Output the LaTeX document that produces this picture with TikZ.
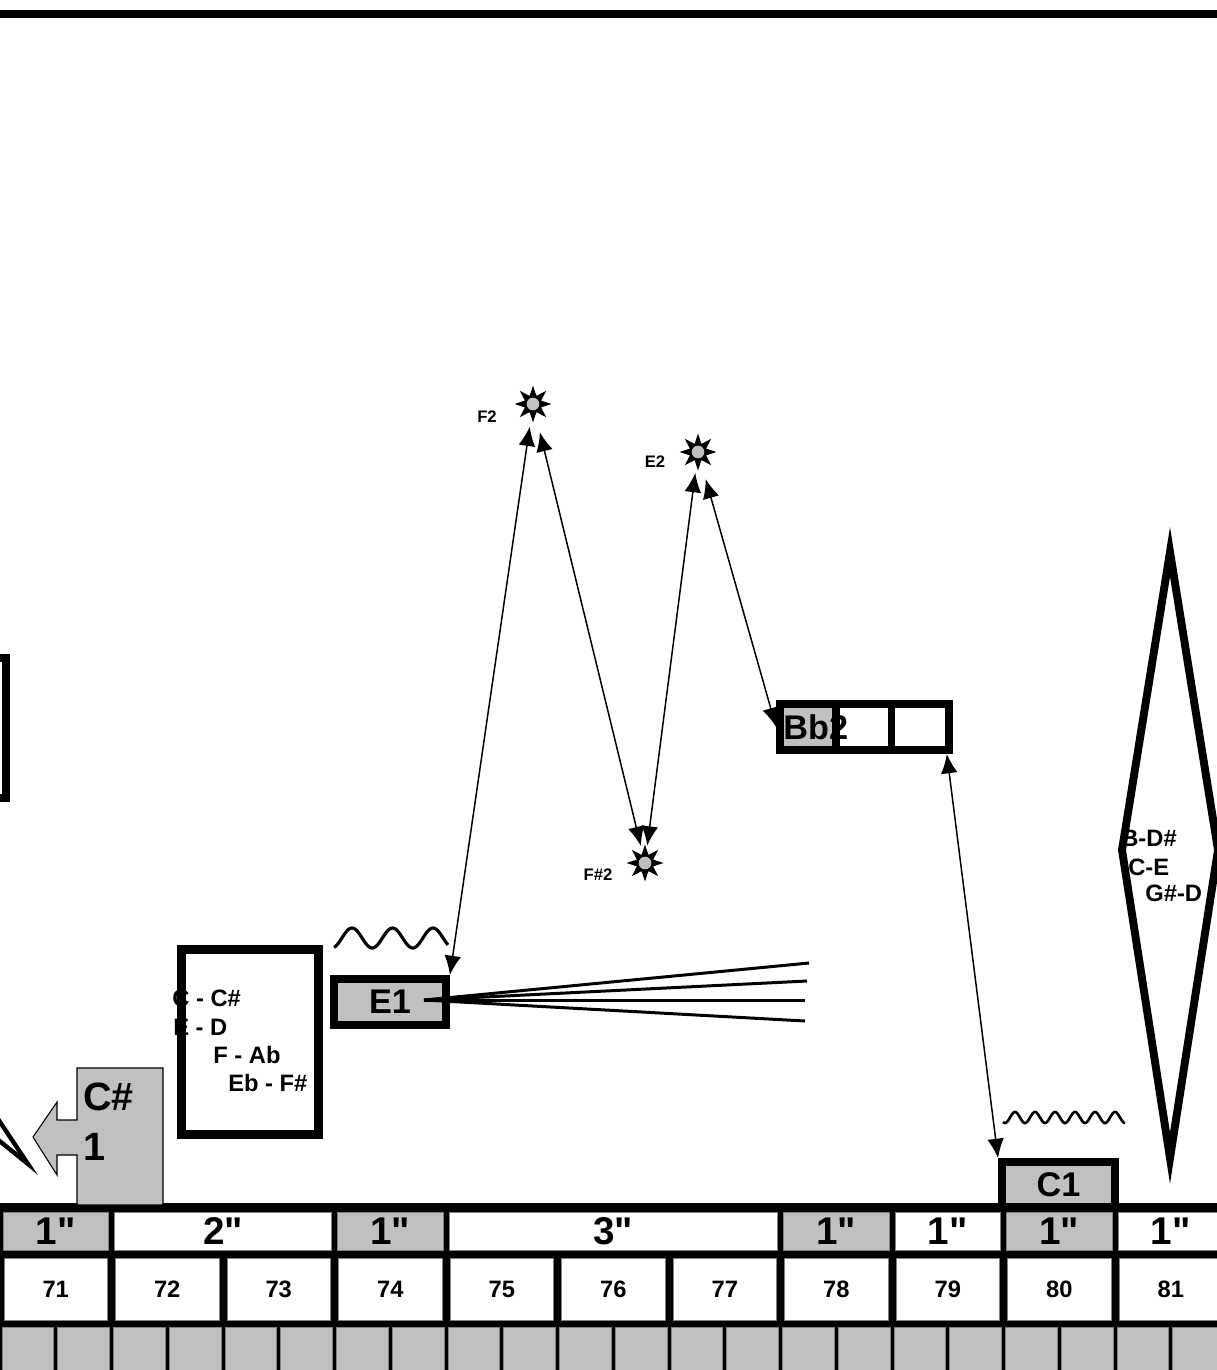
\documentclass[tikz,border=0pt]{standalone}
\usepackage{fontspec}
\setmainfont{Liberation Sans}
\newfontfamily\plainfont{Liberation Sans}
\usetikzlibrary{arrows.meta,shapes.geometric}
\definecolor{silver}{HTML}{C0C0C0}
\begin{document}
\begin{tikzpicture}[x=0.02cm, y=-0.02cm,
  heavy/.style={line width=4.5pt},
  notebox/.style={draw, line width=4.5pt, fill=silver, inner sep=0pt, font=\bfseries\fontsize{19.5}{22}\selectfont},
  interval/.style={inner sep=0pt, anchor=west, font=\bfseries\fontsize{13.5}{16}\selectfont},
  pitch/.style={inner sep=0pt, font=\bfseries\fontsize{9.5}{11}\selectfont},
  burst/.style={star, star points=8, star point ratio=2.1, minimum size=0.74cm, inner sep=0pt, fill=black,
    path picture={\fill[silver] (path picture bounding box.center) circle (3.6pt);}},
  leap/.style={{Latex[length=11pt,width=9.5pt]}-{Latex[length=11pt,width=9.5pt]}, line width=0.85pt},
  ray/.style={line width=1.7pt},
  wave/.style={line width=1.8pt},
  cell/.style={inner sep=0pt, draw=gray, line width=0.4pt}
]
\useasboundingbox (0,0) rectangle (1217,1370);
\draw[heavy] (0,14) -- (1217,14);
\draw[heavy] (-60,658) rectangle (6,798);

% bar table
\fill (0,1203) rectangle (1217,1375);
\foreach \a/\b/\tone/\len in {0/1/silver/1, 1/3/white/2, 3/4/silver/1, 4/7/white/3, 7/8/silver/1, 8/9/white/1, 9/10/silver/1, 10/11/white/1}{
  \pgfmathsetmacro\w{((\b-\a)*111.5-6)*0.02}
  \node[cell, fill=\tone, minimum width=\w cm, minimum height=0.76cm, font=\bfseries\fontsize{22}{24}\selectfont] (dur\a) at ({(\a+\b)*55.75},1231) {\len{\plainfont"}};
}
\foreach \k in {0,...,10}{
  \pgfmathtruncatemacro\num{71+\k}
  \node[cell, fill=white, minimum width=2.07cm, minimum height=1.24cm, font=\bfseries\fontsize{13.5}{16}\selectfont] (bar\num) at ({\k*111.5+55.75},1289) {\num};
  \node[cell, fill=silver, minimum width=1.035cm, minimum height=0.9cm] (beata\num) at ({\k*111.5+27.9},1350) {};
  \node[cell, fill=silver, minimum width=1.035cm, minimum height=0.9cm] (beatb\num) at ({\k*111.5+83.6},1350) {};
}

% callout and wedge
\filldraw[fill=silver, draw=black, line width=0.6pt] (163,1068) -- (77,1068) -- (77,1120) -- (57,1120) -- (57,1102) -- (33,1137) -- (57,1175) -- (57,1155) -- (77,1155) -- (77,1205) -- (163,1205) -- cycle;
\node[anchor=north west, align=left, inner sep=0pt, font=\bfseries\fontsize{22.5}{28.3}\selectfont] (csharp) at (83,1083) {C\#\\1};
\draw[line width=2.5pt, line join=miter] (-30,1077) -- (28,1164) -- (-30,1117);

% interval box
\node[draw, line width=5pt, minimum width=2.74cm, minimum height=3.7cm, inner sep=0pt] (ivbox) at (250,1042) {};
\node[interval] (iv1) at (172,998) {C - C\#};
\node[interval] (iv2) at (173,1027) {E - D};
\node[interval] (iv3) at (213,1055) {F - Ab};
\node[interval] (iv4) at (228,1083) {Eb - F\#};

% E1 and its fan
\node[notebox, minimum width=2.24cm, minimum height=0.92cm] (e1) at (390,1002) {E1};
\coordinate (hub) at (424,1000);
\coordinate (fan1) at (809,963);
\coordinate (fan2) at (807,981);
\coordinate (fan3) at (805,1000);
\coordinate (fan4) at (805,1021);
\foreach \f in {fan1,fan2,fan3,fan4}
  \draw[ray] (hub) -- (\f);
\draw[wave] plot[domain=334:448, samples=80] (\x, {938-10*cos(8.89*(\x-352))});

% stars
\node[burst] (f2) at (533,404) {};
\node[burst] (fsharp2) at (645,863) {};
\node[burst] (e2) at (698,452) {};
\node[pitch] (f2lbl) at (487,417) {F2};
\node[pitch] (fsharp2lbl) at (598,875) {F\#2};
\node[pitch] (e2lbl) at (655,462) {E2};

% Bb2
\fill[silver] (784,708) rectangle (836,746);
\node[draw, heavy, minimum width=3.38cm, minimum height=0.92cm, inner sep=0pt] (bb2) at (864.5,727) {};
\draw[heavy] (836,704) -- (836,750);
\draw[heavy] (891.5,704) -- (891.5,750);
\node[anchor=west, inner sep=0pt, font=\bfseries\fontsize{19.5}{22}\selectfont] (bbtxt) at (783,727) {Bb2};

% C1
\node[notebox, minimum width=2.26cm, minimum height=0.9cm] (c1) at (1058.5,1184.5) {C1};
\draw[line width=1.5pt] plot[domain=1003:1125, samples=120] (\x, {1117.5-5.5*cos(18*(\x-1015))});

% diamond
\draw[heavy] (1170,552) -- (1122,850) -- (1170,1158) -- (1218,850) -- cycle;
\node[interval] (dm1) at (1121,838) {B-D\#};
\node[interval] (dm2) at (1128,867) {C-E};
\node[interval] (dm3) at (1145,893) {G\#-D};

% leaps
\draw[leap, shorten <=13pt] (f2.center) -- (e1.north east);
\draw[leap, shorten <=16.5pt, shorten >=10pt] (f2.center) -- (fsharp2.center);
\draw[leap, shorten <=10pt, shorten >=12pt] (fsharp2.center) -- (e2.center);
\draw[leap, shorten <=16pt] (e2.center) -- (bb2.west);
\draw[leap] ([xshift=-3.5pt]bb2.south east) -- (c1.north west);
\end{tikzpicture}
\end{document}
